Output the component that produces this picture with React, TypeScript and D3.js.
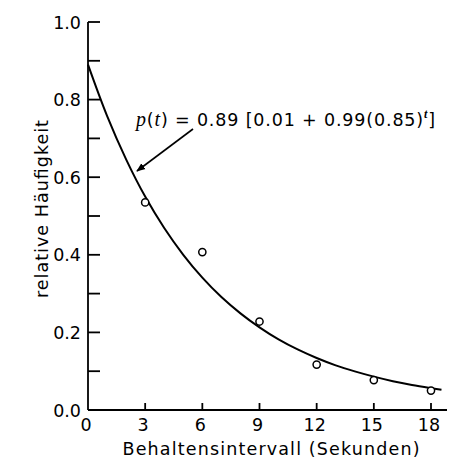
import React from "react";
import * as d3 from "d3";

const obsT = [3, 6, 9, 12, 15, 18];
const obsP = [0.535, 0.407, 0.228, 0.117, 0.077, 0.05];

const curveT = [0, 1, 2, 3, 4, 5, 6, 7, 8, 9, 10, 11, 12, 13, 14, 15, 16, 17, 18, 18.55];
const curveP = [0.89, 0.758, 0.646, 0.55, 0.469, 0.4, 0.341, 0.291, 0.249, 0.213, 0.182, 0.156, 0.134, 0.115, 0.0995, 0.086, 0.0743, 0.0645, 0.0562, 0.052];

const xTickLabels = [0, 3, 6, 9, 12, 15, 18];
const yTickLabels = [0.0, 0.2, 0.4, 0.6, 0.8, 1.0];
const yMinorTicks = [0.1, 0.2, 0.3, 0.4, 0.5, 0.6, 0.7, 0.8, 0.9, 1.0];

const xTitle = "Behaltensintervall (Sekunden)";
const yTitle = "relative Häufigkeit";

export default function App() {
  const W = 455, H = 460;
  const x = d3.scaleLinear().domain([0, 18]).range([88, 431]);
  const y = d3.scaleLinear().domain([0, 1]).range([410, 22]);
  const line = d3
    .line<number>()
    .x((d, i) => x(curveT[i]))
    .y((d) => y(d))
    .curve(d3.curveCatmullRom.alpha(0.5));
  const font = "'DejaVu Sans', Verdana, sans-serif";
  const serif = "'Liberation Serif', 'Times New Roman', serif";
  const sw = 1.8;
  return (
    <svg width={W} height={H} style={{ position: "absolute", left: 0, top: 0, background: "#fff" }}>
      <defs>
        <marker id="ah" viewBox="0 0 10 10" refX="9" refY="5" markerWidth="9" markerHeight="9" orient="auto" markerUnits="userSpaceOnUse">
          <path d="M0,1 L10,5 L0,9 Z" fill="#000" />
        </marker>
      </defs>
      <rect width={W} height={H} fill="#fff" />
      {/* axes */}
      <line x1={x(0)} y1={y(0)} x2={447} y2={y(0)} stroke="#000" strokeWidth={sw} />
      <line x1={x(0)} y1={y(0)} x2={x(0)} y2={y(1)} stroke="#000" strokeWidth={sw} />
      {yMinorTicks.map((v) => (
        <line key={v} x1={x(0)} x2={x(0) + 12} y1={y(v)} y2={y(v)} stroke="#000" strokeWidth={sw} />
      ))}
      {xTickLabels.filter((v) => v > 0).map((v) => (
        <line key={v} x1={x(v)} x2={x(v)} y1={y(0)} y2={y(0) - 7} stroke="#000" strokeWidth={sw} />
      ))}
      {yTickLabels.map((v) => (
        <text key={v} x={81} y={y(v) + 6.5} textAnchor="end" fontFamily={font} fontSize={17.5}>
          {v.toFixed(1)}
        </text>
      ))}
      {xTickLabels.map((v) => (
        <text key={v} x={x(v) - 2} y={431} textAnchor="middle" fontFamily={font} fontSize={17.5}>
          {v}
        </text>
      ))}
      <text x={271} y={455} textAnchor="middle" fontFamily={font} fontSize={17.5} textLength={297} lengthAdjust="spacing">
        {xTitle}
      </text>
      <text transform="translate(48,209) rotate(-90)" textAnchor="middle" fontFamily={font} fontSize={17.5} textLength={178} lengthAdjust="spacing">
        {yTitle}
      </text>
      {/* curve */}
      <path d={line(curveP) || ""} fill="none" stroke="#000" strokeWidth={2} />
      {obsT.map((t, i) => (
        <circle key={t} cx={x(t)} cy={y(obsP[i])} r={3.6} fill="#fff" stroke="#000" strokeWidth={1.5} />
      ))}
      {/* annotation */}
      <text x={136} y={126} fontFamily={font} fontSize={17.5} textLength={299} lengthAdjust="spacing">
        <tspan fontFamily={serif} fontStyle="italic" fontSize={20}>p</tspan>
        <tspan>(</tspan>
        <tspan fontFamily={serif} fontStyle="italic" fontSize={20}>t</tspan>
        <tspan>) = 0.89 [0.01 + 0.99(0.85)</tspan>
        <tspan dy={-8} fontSize={12} fontFamily={serif} fontStyle="italic" fontWeight="bold">t</tspan>
        <tspan dy={8}>]</tspan>
      </text>
      <line x1={193} y1={129} x2={137} y2={171} stroke="#000" strokeWidth={1.6} markerEnd="url(#ah)" />
    </svg>
  );
}
